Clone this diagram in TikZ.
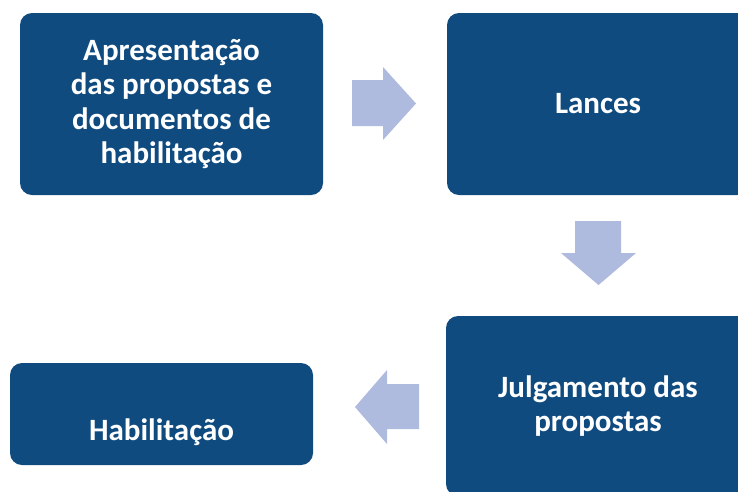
\documentclass[tikz,border=0pt]{standalone}
\usepackage{fontspec}
\setmainfont{Carlito}
\definecolor{boxblue}{HTML}{104B80}
\definecolor{arrowblue}{HTML}{AEBBDF}
\tikzset{
  box/.style={fill=boxblue, rounded corners=12pt, inner sep=0pt, text=white,
    align=center, font=\fontsize{31}{34.5}\selectfont\bfseries},
  lbl/.style={text=white, align=center, inner sep=0pt, font=\fontsize{31}{34.5}\selectfont\bfseries},
  flow/.style={fill=arrowblue, draw=none}
}
\begin{document}
\begin{tikzpicture}[x=1pt,y=-1pt]
\useasboundingbox (0,0) rectangle (738,491);
\clip (0,0) rectangle (738,491);
\fill[white] (0,0) rectangle (738,491);
% boxes
\node[box, minimum width=303pt, minimum height=182pt] (a) at (171.5,104) {Apresentação\\das propostas e\\documentos de\\habilitação};
\node[box, minimum width=302pt, minimum height=182pt] (b) at (598,104) {Lances};
\node[box, minimum width=304pt, minimum height=180pt] (c) at (598,406) {Julgamento das\\propostas};
\node[box, minimum width=303pt, minimum height=102pt] (d) at (161.5,414) {};
\node[lbl] (dt) at ([yshift=-18pt]d.center) {Habilitação};
% arrows
\fill[flow] (352,80) -- (383,80) -- (383,67) -- (416,103.5) -- (383,140) -- (383,126) -- (352,126) -- cycle;
\fill[flow] (575,221) -- (621,221) -- (621,253) -- (636,253) -- (598.5,285) -- (561,253) -- (575,253) -- cycle;
\fill[flow] (419,384) -- (387,384) -- (387,370) -- (355,407) -- (387,444) -- (387,429) -- (419,429) -- cycle;
\end{tikzpicture}
\end{document}
